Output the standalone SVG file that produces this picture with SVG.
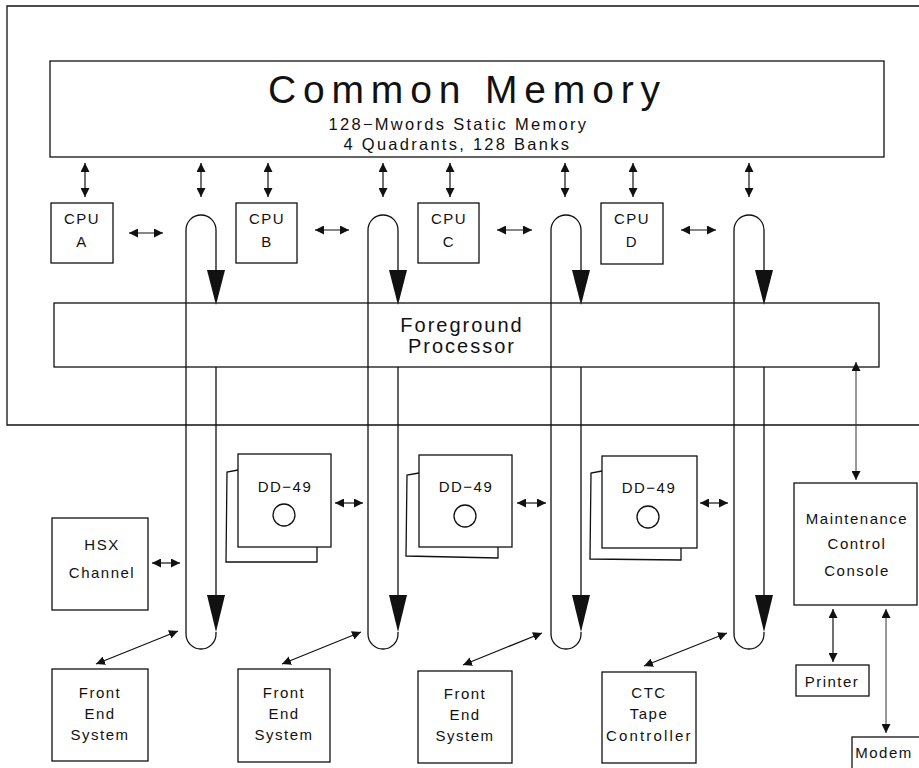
<svg xmlns="http://www.w3.org/2000/svg" width="919" height="768" viewBox="0 0 919 768">
<style>
rect,.ln{fill:none;stroke:#111;stroke-width:1.3}
.t{font-family:"Liberation Sans",Arial,sans-serif;font-size:15px;letter-spacing:1.5px;fill:#111;text-anchor:middle}
.big{font-size:39px;letter-spacing:0;font-weight:300}
.sub{font-size:16.5px}
.fp{font-size:20px;letter-spacing:2px}
.head{fill:#111;stroke:none}
.da{stroke:#111;stroke-width:1.2;fill:none;marker-start:url(#a);marker-end:url(#a)}
.lt{stroke:#333;stroke-width:1;fill:none;marker-start:url(#a);marker-end:url(#a)}
</style>
<defs>
<marker id="a" viewBox="0 0 10 10" refX="10" refY="5" markerWidth="9" markerHeight="9" markerUnits="userSpaceOnUse" orient="auto-start-reverse">
<path d="M0,0 L10,5 L0,10 z" fill="#111"/>
</marker>
</defs>
<path class="ln" d="M919,6 H7 V425 H919"/>
<g id="common-memory">
<rect x="50" y="61" width="834" height="96"/>
<text class="t big" x="464" y="103" textLength="392" lengthAdjust="spacing">Common Memory</text>
<text class="t sub" x="458" y="130" textLength="259" lengthAdjust="spacing">128−Mwords Static Memory</text>
<text class="t sub" x="457" y="150" textLength="227" lengthAdjust="spacing">4 Quadrants, 128 Banks</text>
</g>
<g id="cpu-a"><rect x="51" y="203" width="62" height="60"/><text class="t" x="82" y="224">CPU</text><text class="t" x="82" y="247">A</text></g>
<g id="cpu-b"><rect x="236" y="203" width="61" height="60"/><text class="t" x="267" y="224">CPU</text><text class="t" x="267" y="247">B</text></g>
<g id="cpu-c"><rect x="418" y="203" width="61" height="60"/><text class="t" x="449" y="224">CPU</text><text class="t" x="449" y="247">C</text></g>
<g id="cpu-d"><rect x="601" y="203" width="62" height="61"/><text class="t" x="632" y="224">CPU</text><text class="t" x="632" y="247">D</text></g>
<g id="foreground-processor">
<rect x="54" y="303" width="825" height="64"/>
<text class="t fp" x="462" y="332">Foreground</text>
<text class="t fp" x="462" y="353">Processor</text>
</g>
<g id="hsx"><rect x="52" y="518" width="96" height="92"/><text class="t" x="102" y="550">HSX</text><text class="t" x="102" y="578">Channel</text></g>
<g id="dd49-1">
<path class="ln" d="M238,470 L227,472 L226,562 L317,562 L317,547"/>
<rect x="238" y="454" width="93" height="93"/>
<text class="t" x="285" y="492">DD−49</text>
<circle class="ln" cx="284" cy="515" r="11"/>
</g>
<g id="dd49-2">
<path class="ln" d="M419,473 L407,475 L406,556 L498,558 L498,547"/>
<rect x="419" y="455" width="93" height="92"/>
<text class="t" x="466" y="492">DD−49</text>
<circle class="ln" cx="465" cy="516" r="11"/>
</g>
<g id="dd49-3">
<path class="ln" d="M602,471 L591,473 L590,559 L681,560 L681,548"/>
<rect x="602" y="456" width="95" height="92"/>
<text class="t" x="649" y="493">DD−49</text>
<circle class="ln" cx="648" cy="517" r="11"/>
</g>
<g id="mcc"><rect x="794" y="483" width="123" height="122"/><text class="t" x="857" y="524">Maintenance</text><text class="t" x="857" y="549">Control</text><text class="t" x="857" y="576">Console</text></g>
<g id="printer"><rect x="796" y="665" width="73" height="31"/><text class="t" x="832" y="687">Printer</text></g>
<g id="modem"><rect x="852" y="737" width="80" height="40"/><text class="t" x="884" y="758">Modem</text></g>
<g id="fe-1"><rect x="52" y="669" width="96" height="92"/><text class="t" x="100" y="698">Front</text><text class="t" x="100" y="719">End</text><text class="t" x="100" y="740">System</text></g>
<g id="fe-2"><rect x="238" y="669" width="92" height="93"/><text class="t" x="284" y="698">Front</text><text class="t" x="284" y="719">End</text><text class="t" x="284" y="740">System</text></g>
<g id="fe-3"><rect x="418" y="671" width="94" height="92"/><text class="t" x="465" y="699">Front</text><text class="t" x="465" y="720">End</text><text class="t" x="465" y="741">System</text></g>
<g id="ctc"><rect x="602" y="672" width="94" height="91"/><text class="t" x="649" y="698">CTC</text><text class="t" x="649" y="719">Tape</text><text class="t" x="649" y="741" textLength="86" lengthAdjust="spacing">Controller</text></g>
<g id="connectors">
<g id="loops">
<path class="ln" d="M186,634 V230 A15,15 0 0 1 216,230 V270 M216,367 V595 M216,632 V634 A15,15 0 0 1 186,634"/>
<polygon class="head" points="207,270 225,270 216,305"/>
<polygon class="head" points="207,595 225,595 216,632"/>
<path class="ln" d="M368,634 V230 A15,15 0 0 1 398,230 V270 M398,367 V595 M398,632 V634 A15,15 0 0 1 368,634"/>
<polygon class="head" points="389,270 407,270 398,305"/>
<polygon class="head" points="389,595 407,595 398,632"/>
<path class="ln" d="M551,634 V230 A15,15 0 0 1 581,230 V270 M581,367 V595 M581,632 V634 A15,15 0 0 1 551,634"/>
<polygon class="head" points="572,270 590,270 581,305"/>
<polygon class="head" points="572,595 590,595 581,632"/>
<path class="ln" d="M734,634 V230 A15,15 0 0 1 764,230 V270 M764,367 V595 M764,632 V634 A15,15 0 0 1 734,634"/>
<polygon class="head" points="755,270 773,270 764,305"/>
<polygon class="head" points="755,595 773,595 764,632"/>
</g>
<path class="da" d="M85,163 V197"/>
<path class="da" d="M201,163 V197"/>
<path class="da" d="M268,163 V197"/>
<path class="da" d="M383,163 V197"/>
<path class="da" d="M450,163 V197"/>
<path class="da" d="M565,163 V197"/>
<path class="da" d="M633,163 V197"/>
<path class="da" d="M749,163 V197"/>
<path class="da" d="M129,233 H163"/>
<path class="da" d="M315,230 H349"/>
<path class="da" d="M497,230 H532"/>
<path class="da" d="M681,230 H716"/>
<path class="da" d="M152,563 H180"/>
<path class="da" d="M335,503 H363"/>
<path class="da" d="M517,503 H546"/>
<path class="da" d="M700,503 H728"/>
<path class="da" d="M178,631 L96,664"/>
<path class="da" d="M361,632 L282,664"/>
<path class="da" d="M542,633 L463,665"/>
<path class="da" d="M727,633 L644,666"/>
<path class="lt" d="M856,362 V480"/>
<path class="da" d="M833,609 V662"/>
<path class="lt" d="M886,609 V733"/>
</g>
</svg>
